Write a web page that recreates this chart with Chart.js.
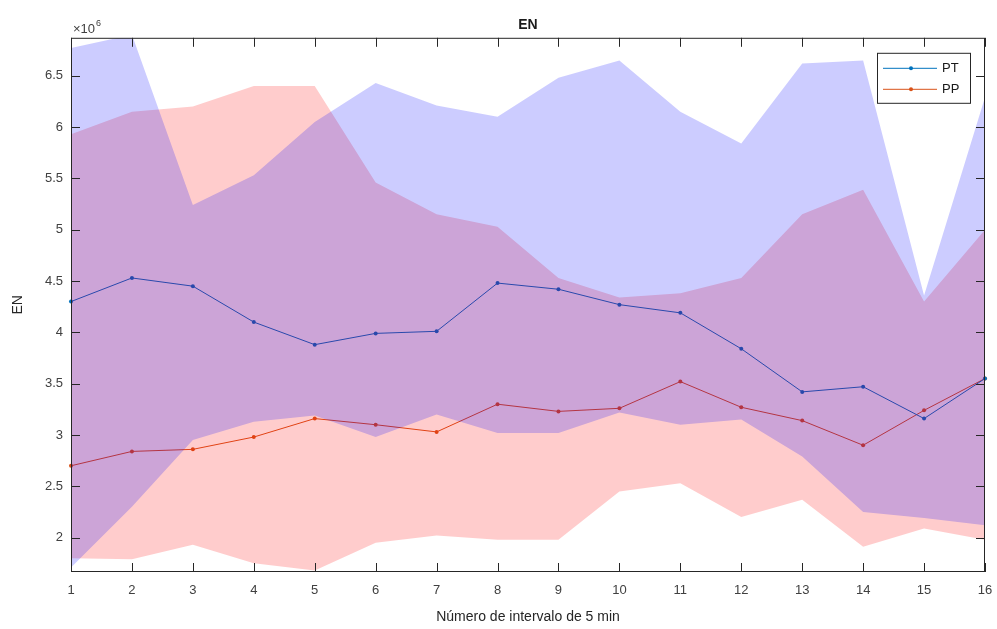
<!DOCTYPE html>
<html>
<head>
<meta charset="utf-8">
<script src="https://cdn.jsdelivr.net/npm/chart.js@4/dist/chart.umd.min.js"></script>
<style>
  html, body { margin: 0; padding: 0; background: #fff; }
  #wrap { width: 997px; height: 629px; }
</style>
</head>
<body>
<div id="wrap"><canvas id="enChart" width="997" height="629"></canvas></div>
<script>
// values in units of 10^6
const intervals = ['1','2','3','4','5','6','7','8','9','10','11','12','13','14','15','16'];
const ptMean  = [4.30, 4.53, 4.45, 4.10, 3.88, 3.99, 4.01, 4.48, 4.42, 4.27, 4.19, 3.84, 3.42, 3.47, 3.16, 3.55];
const ptUpper = [6.77, 6.90, 5.24, 5.53, 6.05, 6.43, 6.21, 6.10, 6.48, 6.65, 6.15, 5.84, 6.62, 6.65, 4.36, 6.29];
const ptLower = [1.71, 2.30, 2.95, 3.13, 3.19, 2.98, 3.20, 3.02, 3.02, 3.22, 3.10, 3.15, 2.79, 2.25, 2.19, 2.12];
const ppMean  = [2.70, 2.84, 2.86, 2.98, 3.16, 3.10, 3.03, 3.30, 3.23, 3.26, 3.52, 3.27, 3.14, 2.90, 3.24, 3.55];
const ppUpper = [5.93, 6.15, 6.20, 6.40, 6.40, 5.46, 5.15, 5.03, 4.53, 4.34, 4.38, 4.53, 5.15, 5.39, 4.30, 5.00];
const ppLower = [1.80, 1.79, 1.93, 1.75, 1.68, 1.95, 2.02, 1.98, 1.98, 2.45, 2.53, 2.20, 2.37, 1.91, 2.09, 1.98];
const yTicks  = [2, 2.5, 3, 3.5, 4, 4.5, 5, 5.5, 6, 6.5];

const FONT = '"Liberation Sans", Arial, Helvetica, sans-serif';
const axisColor = '#262626';
const ptColor = 'rgb(0,114,189)';
const ppColor = 'rgb(217,83,25)';

function bound(data, fillTarget, color, order) {
  return {
    data, fill: fillTarget, backgroundColor: color,
    borderColor: 'rgba(0,0,0,0)', borderWidth: 0,
    pointRadius: 0, tension: 0, order
  };
}

// box, inward ticks, exponent label and legend, MATLAB style
const frame = {
  id: 'frame',
  afterDatasetsDraw(chart) {
    const { ctx, chartArea: a, scales: { x, y } } = chart;
    ctx.save();
    ctx.strokeStyle = axisColor;
    ctx.lineWidth = 1;
    ctx.strokeRect(a.left + 0.5, a.top + 0.5, a.right - a.left - 1, a.bottom - a.top - 1);

    ctx.beginPath();
    x.ticks.forEach((t, i) => {
      const px = Math.round(x.getPixelForTick(i)) + 0.5;
      ctx.moveTo(px, a.bottom); ctx.lineTo(px, a.bottom - 9);
      ctx.moveTo(px, a.top); ctx.lineTo(px, a.top + 9);
    });
    y.ticks.forEach(t => {
      const py = Math.round(y.getPixelForValue(t.value)) + 0.5;
      ctx.moveTo(a.left, py); ctx.lineTo(a.left + 9, py);
      ctx.moveTo(a.right, py); ctx.lineTo(a.right - 9, py);
    });
    ctx.stroke();

    // ×10^6
    ctx.fillStyle = '#404040';
    ctx.textBaseline = 'alphabetic';
    ctx.font = '13px ' + FONT;
    ctx.fillText('×10', a.left + 2, a.top - 5);
    const w = ctx.measureText('×10').width;
    ctx.font = '9px ' + FONT;
    ctx.fillText('6', a.left + 3 + w, a.top - 12);

    // legend
    const bw = 93, bh = 50;
    const bx = a.right - 15 - bw, by = a.top + 15;
    ctx.fillStyle = '#fff';
    ctx.fillRect(bx, by, bw, bh);
    ctx.strokeStyle = '#262626';
    ctx.strokeRect(bx + 0.5, by + 0.5, bw, bh);
    [['PT', ptColor, 15], ['PP', ppColor, 36]].forEach(([lab, col, dy]) => {
      const ly = by + dy + 0.5;
      ctx.strokeStyle = col;
      ctx.beginPath();
      ctx.moveTo(bx + 6, ly); ctx.lineTo(bx + 60, ly);
      ctx.stroke();
      ctx.fillStyle = col;
      ctx.beginPath();
      ctx.arc(bx + 34, ly, 2, 0, Math.PI * 2);
      ctx.fill();
      ctx.fillStyle = '#1a1a1a';
      ctx.font = '13px ' + FONT;
      ctx.textBaseline = 'middle';
      ctx.fillText(lab, bx + 65, ly);
    });
    ctx.restore();
  }
};

new Chart(document.getElementById('enChart'), {
  type: 'line',
  data: {
    labels: intervals,
    datasets: [
      { label: 'PT', data: ptMean, borderColor: ptColor, backgroundColor: ptColor, borderWidth: 1,
        pointRadius: 2, pointBorderWidth: 0, fill: false, tension: 0, order: 2 },
      { label: 'PP', data: ppMean, borderColor: ppColor, backgroundColor: ppColor, borderWidth: 1,
        pointRadius: 2, pointBorderWidth: 0, fill: false, tension: 0, order: 2 },
      bound(ptUpper, 3, 'rgba(0,0,255,0.2)', 0),
      bound(ptLower, false, 'rgba(0,0,0,0)', 0),
      bound(ppUpper, 5, 'rgba(255,0,0,0.2)', 1),
      bound(ppLower, false, 'rgba(0,0,0,0)', 1)
    ]
  },
  options: {
    responsive: false,
    animation: false,
    layout: { padding: { left: 0, right: 12, top: 0, bottom: 0 } },
    plugins: {
      legend: { display: false },
      tooltip: { enabled: false },
      title: {
        display: true, text: 'EN', color: '#1a1a1a', fullSize: false,
        font: { family: FONT, size: 14, weight: 'bold' },
        padding: { top: 17, bottom: 4 }
      }
    },
    scales: {
      x: {
        type: 'category', offset: false,
        grid: { display: false, drawTicks: false },
        border: { display: false },
        ticks: { color: '#404040', font: { family: FONT, size: 13 }, padding: 11, maxRotation: 0, autoSkip: false },
        title: { display: true, text: 'Número de intervalo de 5 min', color: '#262626',
                 font: { family: FONT, size: 14 }, padding: { top: 0, bottom: 3 } },
        afterFit: s => { s.height = 57; s.paddingLeft = 0; s.paddingRight = 0; }
      },
      y: {
        min: 1.665, max: 6.87,
        grid: { display: false, drawTicks: false },
        border: { display: false },
        afterBuildTicks: s => { s.ticks = yTicks.map(v => ({ value: v })); },
        ticks: { color: '#404040', font: { family: FONT, size: 13 }, padding: 8,
                 callback: v => String(v) },
        title: { display: true, text: 'EN', color: '#262626',
                 font: { family: FONT, size: 14 }, padding: { top: 10, bottom: 0 } },
        afterFit: s => { s.width = 71; s.paddingTop = 0; s.paddingBottom = 0; }
      }
    }
  },
  plugins: [frame]
});
</script>
</body>
</html>
